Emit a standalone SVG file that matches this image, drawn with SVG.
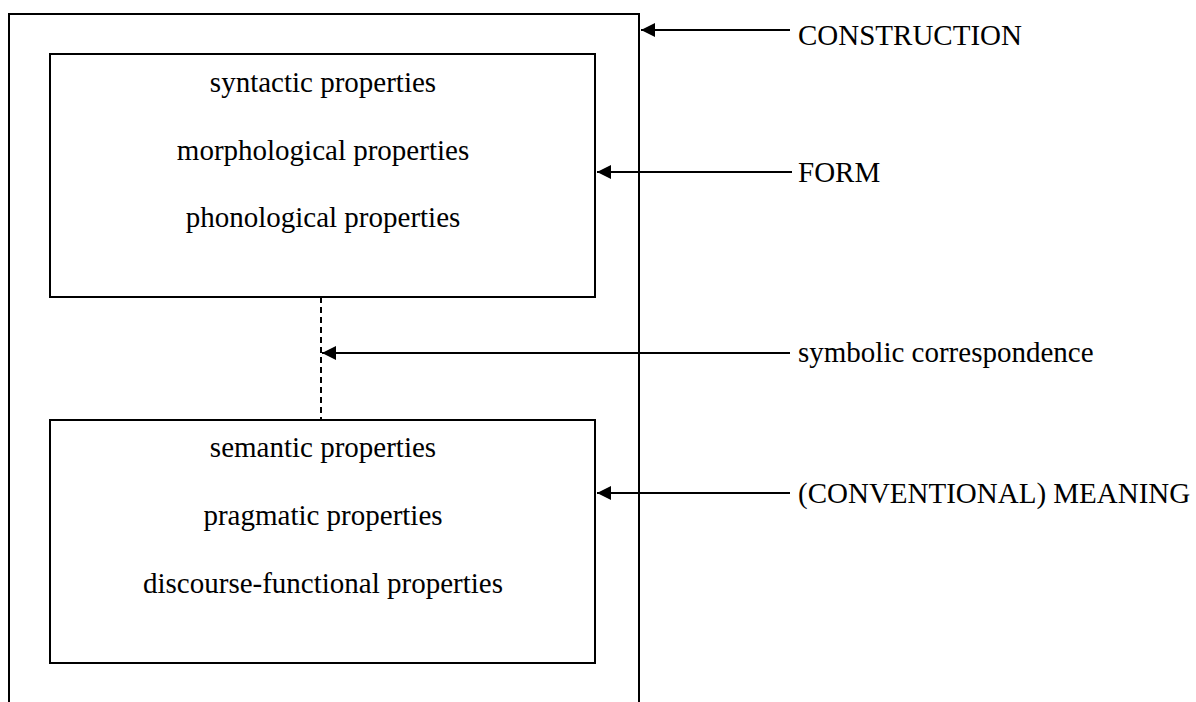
<svg xmlns="http://www.w3.org/2000/svg" width="1196" height="702" viewBox="0 0 1196 702">
<style>
.box{fill:none;stroke:#000;stroke-width:2}
.t{font-family:"Liberation Serif","Times New Roman",serif;font-size:29px;fill:#000}
.c{text-anchor:middle}
.arr{stroke:#000;stroke-width:2;fill:none;marker-end:url(#ah)}
</style>
<defs>
<marker id="ah" markerWidth="14" markerHeight="14" viewBox="0 0 14 14" refX="14" refY="7" orient="auto" markerUnits="userSpaceOnUse">
<path d="M0,0 L14,7 L0,14 Z" fill="#000"/>
</marker>
</defs>
<rect width="1196" height="702" fill="#fff"/>
<g id="construction">
<rect class="box" x="9" y="14" width="630" height="720"/>
</g>
<g id="form">
<rect class="box" x="50" y="54" width="545" height="243"/>
<text class="t c" x="323" y="92">syntactic properties</text>
<text class="t c" x="323" y="160">morphological properties</text>
<text class="t c" x="323" y="227">phonological properties</text>
</g>
<g id="meaning">
<rect class="box" x="50" y="420" width="545" height="243"/>
<text class="t c" x="323" y="457">semantic properties</text>
<text class="t c" x="323" y="525">pragmatic properties</text>
<text class="t c" x="323" y="593">discourse-functional properties</text>
</g>
<g id="labels">
<text class="t" x="798" y="45">CONSTRUCTION</text>
<text class="t" x="798" y="182">FORM</text>
<text class="t" x="798" y="362">symbolic correspondence</text>
<text class="t" x="798" y="503">(CONVENTIONAL) MEANING</text>
</g>
<g id="connectors">
<line x1="321" y1="297" x2="321" y2="420" stroke="#000" stroke-width="2" stroke-dasharray="6,4"/>
<line class="arr" x1="790" y1="30" x2="641" y2="30"/>
<line class="arr" x1="792" y1="172" x2="597" y2="172"/>
<line class="arr" x1="790" y1="353" x2="322" y2="353"/>
<line class="arr" x1="790" y1="493" x2="597" y2="493"/>
</g>
</svg>
